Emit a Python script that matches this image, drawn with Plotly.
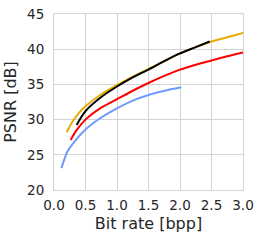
import plotly.graph_objects as go

# Data
yellow_x = [0.20, 0.3, 0.4, 0.5, 0.75, 1.0, 1.25, 1.5, 1.75, 2.0, 2.25, 2.5, 2.75, 3.0]
yellow_y = [28.2, 29.8, 31.0, 31.9, 33.6, 34.9, 36.1, 37.2, 38.3, 39.4, 40.3, 41.1, 41.7, 42.3]

black_x = [0.36, 0.5, 0.75, 1.0, 1.25, 1.5, 1.75, 2.0, 2.25, 2.47]
black_y = [29.25, 31.2, 33.2, 34.7, 36.0, 37.1, 38.3, 39.4, 40.3, 41.1]

red_x = [0.265, 0.35, 0.5, 0.75, 1.0, 1.25, 1.5, 1.75, 2.0, 2.25, 2.5, 2.75, 3.0]
red_y = [27.1, 28.4, 30.0, 31.7, 32.9, 34.1, 35.2, 36.2, 37.1, 37.8, 38.4, 39.0, 39.55]

blue_x = [0.117, 0.21, 0.3, 0.5, 0.75, 1.0, 1.25, 1.5, 1.75, 2.02]
blue_y = [23.1, 25.4, 26.6, 28.6, 30.3, 31.6, 32.7, 33.5, 34.1, 34.6]

x_ticks = [0.0, 0.5, 1.0, 1.5, 2.0, 2.5, 3.0]
y_ticks = [20, 25, 30, 35, 40, 45]

fig = go.Figure()
for xs, ys, col in [(blue_x, blue_y, "#6e9bff"), (red_x, red_y, "#ff0000"),
                    (yellow_x, yellow_y, "#e6ad00"), (black_x, black_y, "#000000")]:
    fig.add_trace(go.Scatter(x=xs, y=ys, mode="lines",
                             line=dict(color=col, width=2, shape="spline", smoothing=0.8),
                             showlegend=False, hoverinfo="skip"))

axis_common = dict(showgrid=True, gridcolor="#d4d4d4", gridwidth=1, zeroline=False,
                   showline=True, linecolor="#d4d4d4", linewidth=1, mirror=True,
                   ticks="", automargin=False, ticklabeloverflow="allow",
                   tickfont=dict(size=13.5, color="#262626"),
                   title_font=dict(size=16, color="#262626"))

fig.update_xaxes(range=[0, 3], tickvals=x_ticks, ticktext=[f"{v:.1f}" for v in x_ticks],
                 title_text="Bit rate [bpp]", title_standoff=5, ticklabelstandoff=3, **axis_common)
fig.update_yaxes(range=[20, 45], tickvals=y_ticks, ticktext=[str(v) for v in y_ticks],
                 title_text="PSNR [dB]", title_standoff=6, ticklabelstandoff=6, **axis_common)

fig.update_layout(width=263, height=240, margin=dict(l=54, r=20, t=14, b=50, autoexpand=False),
                  paper_bgcolor="white", plot_bgcolor="white",
                  font=dict(family="DejaVu Sans", color="#262626"))

fig.write_html("out.html", config={"displayModeBar": False},
               post_script="document.body.style.margin='0';")
